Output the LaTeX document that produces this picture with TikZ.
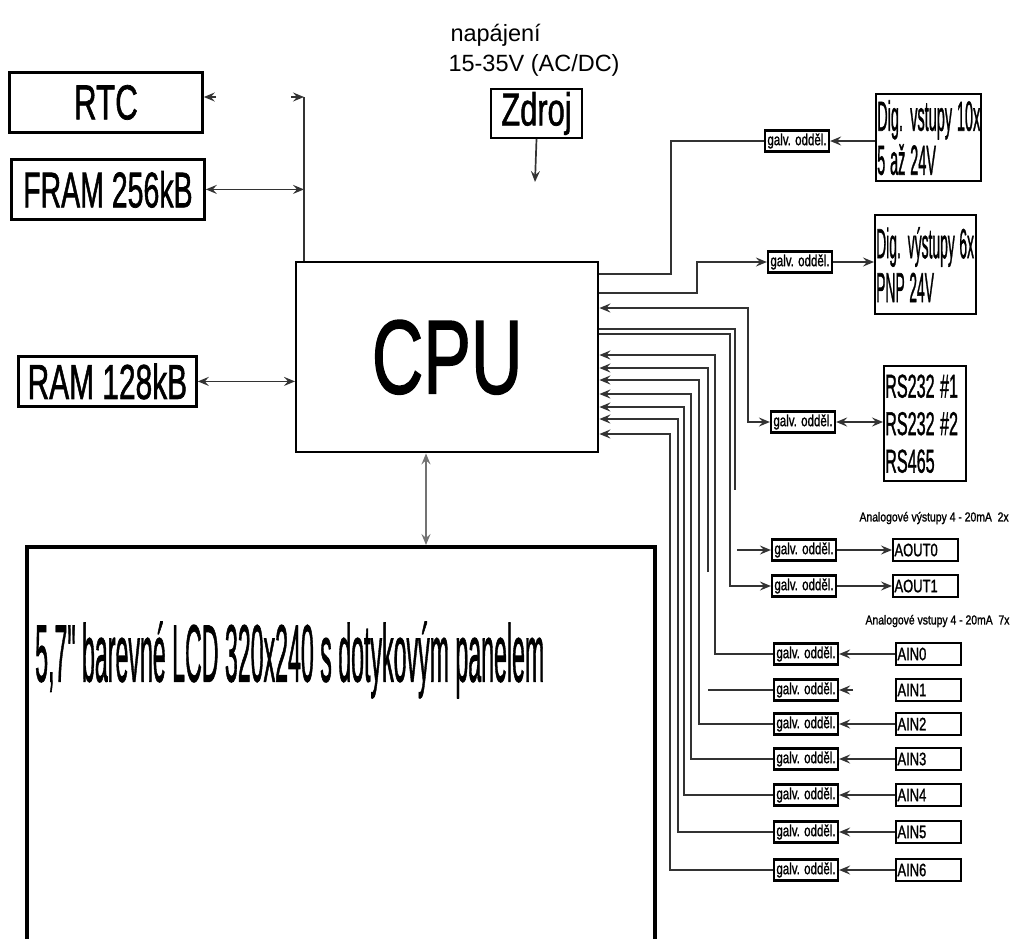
\documentclass[tikz,border=0pt]{standalone}
\usepackage{fontspec}
\setmainfont{Liberation Sans}
\newfontfamily\nf[FakeBold=1.5]{Liberation Sans}
\usepackage{graphicx}
\usetikzlibrary{arrows.meta}

\newcommand{\fs}[2]{\fontsize{#1}{#2}\selectfont}
\newcommand{\sq}[2]{\scalebox{#1}[1]{\nf #2}}
\newcommand{\galvtxt}{\sq{0.72}{galv. odděl.}}

\tikzset{
  blk/.style={draw, line width=2.8pt, inner sep=0pt, anchor=north west},
  galv/.style={draw, line width=2.2pt, inner sep=0pt, minimum width=64pt, minimum height=21pt, font=\fs{16}{16}},
  io/.style={draw, line width=2pt, anchor=west, inner sep=1.5pt, text width=62pt, align=left, minimum height=22pt, font=\fs{18}{18}},
  wire/.style={line width=1.7pt, black!80},
  arr/.style={wire, -{Stealth[length=11pt,width=9pt,inset=4pt]}},
  dbl/.style={wire, {Stealth[length=11pt,width=9pt,inset=4pt]}-{Stealth[length=11pt,width=9pt,inset=4pt]}},
}

\begin{document}
\begin{tikzpicture}[x=1pt, y=-1pt]
  \useasboundingbox (0,0) rectangle (1016,938);
  \clip (0,0) rectangle (1016,938);

  % memories and clock
  \node[blk, minimum width=193pt, minimum height=60pt, font=\fs{49}{49}] (rtc) at (8,71) {\sq{0.64}{RTC}};
  \node[blk, minimum width=193pt, minimum height=60pt, font=\fs{50}{50}] (fram) at (10,158) {\sq{0.57}{FRAM 256kB}};
  \node[blk, minimum width=178pt, minimum height=50pt, font=\fs{49}{49}] (ram) at (17,355) {\sq{0.61}{RAM 128kB}};

  % CPU and display
  \node[blk, line width=2.4pt, minimum width=302pt, minimum height=190pt, font=\fs{105}{105}] (cpu) at (295,261) {\sq{0.68}{CPU}};
  \node[blk, line width=3.8pt, minimum width=628pt, minimum height=420pt] (lcd) at (25,545) {};
  \node[anchor=west, inner sep=0pt, font=\fs{81}{81}] (lcdtxt) at (35,660) {\sq{0.286}{5,7" barevné LCD 320x240 s dotykovým panelem}};

  % power
  \node[anchor=west, font=\fs{23.5}{23.5}] (napajeni) at (447,35) {napájení};
  \node[anchor=west, font=\fs{23.5}{23.5}] (volt) at (445,65) {15-35V (AC/DC)};
  \node[blk, line width=2pt, minimum width=91pt, minimum height=49pt, font=\fs{46}{46}] (zdroj) at (490,88) {\sq{0.67}{Zdroj}};
  \coordinate (pwr) at (535,182);
  \draw[arr] (zdroj.south) -- (pwr);

  % bus to RTC and FRAM
  \coordinate (busT) at (304,97);
  \draw[wire] (busT) -- (busT |- cpu.north);
  \coordinate (rtcA) at (216,97);
  \draw[arr] (rtcA) -- (rtcA -| rtc.east);
  \coordinate (busA) at (291,97);
  \draw[arr] (busA) -- (busT);
  \draw[dbl] (fram.east) -- (fram.east -| busT);
  \draw[dbl] (ram.east) -- (ram.east -| cpu.west);
  \coordinate (lcdx) at (426,500);
  \draw[dbl, black!55] (lcdx |- cpu.south) -- (lcdx |- lcd.north);

  % digital I/O and serial lines
  \node[blk, line width=2.4pt, minimum width=105pt, minimum height=87pt, text width=103pt, align=left, font=\fs{42}{44}] (din) at (875,93) {\sq{0.345}{Dig. vstupy 10x}\\ \sq{0.345}{5 až 24V}};
  \node[blk, line width=2.4pt, minimum width=101pt, minimum height=99pt, text width=99pt, align=left, font=\fs{42}{44}] (dout) at (874,214) {\sq{0.33}{Dig. výstupy 6x}\\ \sq{0.33}{PNP 24V}};
  \node[blk, line width=2.4pt, minimum width=82pt, minimum height=115pt, text width=80pt, align=left, font=\fs{33}{37.5}] (rs) at (883,365) {\sq{0.49}{RS232 \#1}\\ \sq{0.49}{RS232 \#2}\\ \sq{0.49}{RS465}};

  \node[galv] (gdi) at (797,141) {\galvtxt};
  \node[galv] (gdo) at (800,262) {\galvtxt};
  \node[galv] (grs) at (803,422) {\galvtxt};

  \draw[arr] (din.west |- gdi) -- (gdi.east);
  \draw[wire] (cpu.east |- 0,274) -- (671,274) |- (gdi.west);
  \draw[arr] (cpu.east |- 0,293) -- (697,293) |- (gdo.west);
  \draw[arr] (gdo.east) -- (dout.west |- gdo);
  \draw[dbl] (cpu.east |- 0,308) -- (748,308) |- (grs.west);
  \draw[dbl] (grs.east) -- (rs.west |- grs);

  % analog outputs
  \node[anchor=west, font=\fs{13}{13}] (aolab) at (856,518) {\sq{0.8}{Analogové výstupy 4 - 20mA~ 2x}};
  \foreach \i/\yc in {0/550,1/586} {
    \node[galv] (go\i) at (804,\yc) {\galvtxt};
    \node[io] (aout\i) at (892,\yc) {\sq{0.72}{AOUT\i}};
    \draw[arr] (go\i) -- (aout\i);
  }
  \coordinate (ao0cut) at (735,490);
  \draw[wire] (cpu.east |- 0,329) -| (ao0cut);
  \coordinate (ao0start) at (737,550);
  \draw[arr] (ao0start) -- (go0.west);
  \draw[arr] (cpu.east |- 0,334) -- (730,334) |- (go1.west);

  % analog inputs
  \node[anchor=west, font=\fs{13}{13}] (ailab) at (862,621) {\sq{0.8}{Analogové vstupy 4 - 20mA~ 7x}};
  \foreach \i/\yc in {0/654,1/690,2/724,3/759,4/795,5/832,6/870} {
    \node[galv] (ga\i) at (806,\yc) {\galvtxt};
    \node[io] (ain\i) at (895,\yc) {\sq{0.72}{AIN\i}};
  }
  \foreach \i/\xt/\yl in {0/715/355,2/699/380,3/691/394,4/684/407,5/678/419,6/670/434} {
    \draw[arr] (ain\i) -- (ga\i);
    \draw[arr] (ga\i.west) -| (\xt,\yl) -- (cpu.east |- 0,\yl);
  }
  \coordinate (ain1cut) at (708,572);
  \draw[arr] (ain1cut) |- (cpu.east |- 0,368);
  \coordinate (ain1end) at (708,690);
  \draw[wire] (ain1end) -- (ga1.west);
  \coordinate (ain1tip) at (853,690);
  \draw[arr] (ain1tip) -- (ga1.east);
\end{tikzpicture}
\end{document}
